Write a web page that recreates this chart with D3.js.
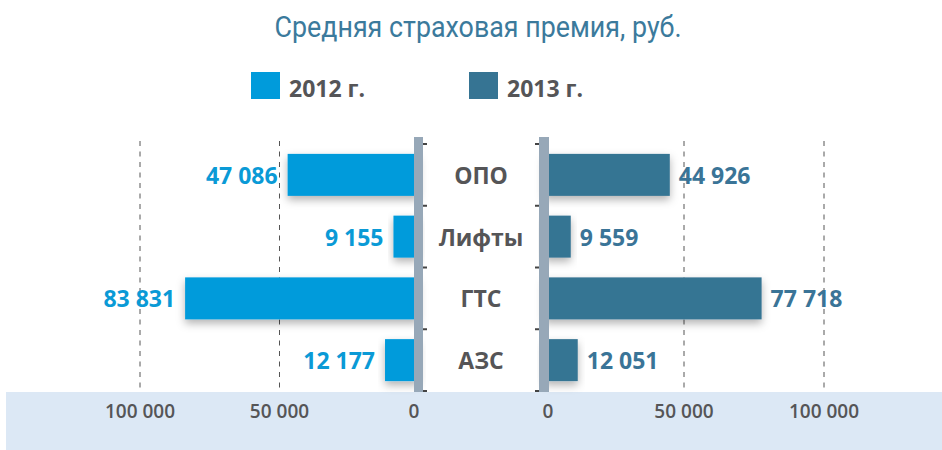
<!DOCTYPE html>
<html>
<head>
<meta charset="utf-8">
<script src="https://cdn.jsdelivr.net/npm/d3@7"></script>
<style>
	body { margin: 0; background: #fff; }
	svg { display: block; font-family: 'Open Sans', sans-serif; }
</style>
</head>
<body>
<div id="divplot"></div>
<script>
// Средняя страховая премия

const categories = ['ОПО', 'Лифты', 'ГТС', 'АЗС']
const values2012 = [47086, 9155, 83831, 12177]
const values2013 = [44926, 9559, 77718, 12051]
const seriesNames = ['2012 г.', '2013 г.']
const tickValues = [0, 50000, 100000]

const plot = () => {

	let width = 942
	let height = 450
	let color2012 = '#009bdb'
	let color2013 = '#367493'
	let textGray = '#555557'

	let fmt = v => d3.format(',')(v).replace(/,/g, ' ')

	let xLeft = d3.scaleLinear()
		.domain([0, 100000])
		.range([419, 140])

	let xRight = d3.scaleLinear()
		.domain([0, 100000])
		.range([544, 824])

	let yScale = d3.scaleBand()
		.domain(categories)
		.range([144, 391])
		.paddingInner(0.32)
		.paddingOuter(0.16)

	let svg = d3.select('#divplot')
		.append('svg')
		.attr('width', width)
		.attr('height', height)

	let defs = svg.append('defs')
	let filter = defs.append('filter')
		.attr('id', 'shadow')
		.attr('x', '-20%').attr('y', '-30%')
		.attr('width', '140%').attr('height', '170%')
	filter.append('feDropShadow')
		.attr('dx', 0)
		.attr('dy', 4)
		.attr('stdDeviation', 4)
		.attr('flood-color', '#000')
		.attr('flood-opacity', 0.3)

	// title
	svg.append('text')
		.attr('x', 478)
		.attr('y', 37)
		.attr('text-anchor', 'middle')
		.attr('textLength', 407)
		.attr('lengthAdjust', 'spacingAndGlyphs')
		.attr('style', "font-size: 30px; font-family: 'Liberation Sans Narrow', Roboto, sans-serif")
		.attr('fill', '#3b7a9c')
		.text('Средняя страховая премия, руб.')

	// legend
	let legend = svg.selectAll('g.legend')
		.data(seriesNames)
		.enter()
		.append('g')
		.attr('class', 'legend')
		.attr('transform', (d, i) => `translate(${251 + i * 218}, 72)`)
	legend.append('rect')
		.attr('width', 29)
		.attr('height', 27)
		.attr('fill', (d, i) => i === 0 ? color2012 : color2013)
	legend.append('text')
		.attr('x', 38)
		.attr('y', 25)
		.attr('style', 'font-size: 23px; font-weight: bold')
		.attr('fill', textGray)
		.text(d => d)

	// bottom band
	svg.append('rect')
		.attr('x', 6)
		.attr('y', 392)
		.attr('width', 936)
		.attr('height', 58)
		.attr('fill', '#dce8f5')

	// grid lines
	let grid = [...tickValues.filter(v => v > 0).map(v => xLeft(v)), ...tickValues.filter(v => v > 0).map(v => xRight(v))]
	svg.selectAll('line.grid')
		.data(grid)
		.enter()
		.append('line')
		.attr('class', 'grid')
		.attr('x1', d => d).attr('x2', d => d)
		.attr('y1', 141).attr('y2', 392)
		.attr('stroke', '#555')
		.attr('stroke-width', 1)
		.attr('stroke-dasharray', '5,5.5')

	// bars
	svg.selectAll('rect.left')
		.data(values2012)
		.enter()
		.append('rect')
		.attr('class', 'left')
		.attr('x', d => xLeft(d))
		.attr('y', (d, i) => yScale(categories[i]))
		.attr('width', d => xLeft(0) - xLeft(d))
		.attr('height', yScale.bandwidth())
		.attr('fill', color2012)
		.attr('filter', 'url(#shadow)')

	svg.selectAll('rect.right')
		.data(values2013)
		.enter()
		.append('rect')
		.attr('class', 'right')
		.attr('x', xRight(0))
		.attr('y', (d, i) => yScale(categories[i]))
		.attr('width', d => xRight(d) - xRight(0))
		.attr('height', yScale.bandwidth())
		.attr('fill', color2013)
		.attr('filter', 'url(#shadow)')

	// zero axes
	let axisLeft = d3.axisRight(yScale).tickSize(0)
	let bounds = [...categories.map(c => yScale(c) - yScale.step() * yScale.paddingInner() / 2), 391]
	bounds[0] = 144

	;[[414, 423, 1], [539, 549, -1]].forEach(([x0, x1, dir]) => {
		svg.append('rect')
			.attr('x', x0)
			.attr('y', 137)
			.attr('width', x1 - x0)
			.attr('height', 255)
			.attr('fill', '#97a8b8')
		svg.selectAll(null)
			.data(bounds)
			.enter()
			.append('line')
			.attr('x1', dir > 0 ? x1 : x0)
			.attr('x2', dir > 0 ? x1 + 4 : x0 - 4)
			.attr('y1', d => d).attr('y2', d => d)
			.attr('stroke', '#444')
			.attr('stroke-width', 2)
	})

	// category labels
	svg.selectAll('text.cat')
		.data(categories)
		.enter()
		.append('text')
		.attr('class', 'cat')
		.attr('x', 481)
		.attr('y', d => yScale(d) + yScale.bandwidth() / 2 + 9)
		.attr('text-anchor', 'middle')
		.attr('style', 'font-size: 23px; font-weight: bold')
		.attr('fill', textGray)
		.text(d => d)

	// value labels
	svg.selectAll('text.vleft')
		.data(values2012)
		.enter()
		.append('text')
		.attr('class', 'vleft')
		.attr('x', d => xLeft(d) - 10)
		.attr('y', (d, i) => yScale(categories[i]) + yScale.bandwidth() / 2 + 9)
		.attr('text-anchor', 'end')
		.attr('style', 'font-size: 23px; font-weight: bold')
		.attr('fill', '#0a9ad6')
		.text(d => fmt(d))

	svg.selectAll('text.vright')
		.data(values2013)
		.enter()
		.append('text')
		.attr('class', 'vright')
		.attr('x', d => xRight(d) + 9)
		.attr('y', (d, i) => yScale(categories[i]) + yScale.bandwidth() / 2 + 9)
		.attr('text-anchor', 'start')
		.attr('style', 'font-size: 23px; font-weight: bold')
		.attr('fill', '#3a7497')
		.text(d => fmt(d))

	// x tick labels
	let ticks = [
		...tickValues.map(v => ({ x: xLeft(v) + (v === 0 ? -5 : 0), v })),
		...tickValues.map(v => ({ x: xRight(v) + (v === 0 ? 4 : 0), v }))
	]
	svg.selectAll('text.tick')
		.data(ticks)
		.enter()
		.append('text')
		.attr('class', 'tick')
		.attr('x', d => d.x)
		.attr('y', 418)
		.attr('text-anchor', 'middle')
		.attr('style', 'font-size: 19px; font-weight: 600')
		.attr('fill', textGray)
		.text(d => fmt(d.v))
}

plot()
</script>
</body>
</html>
